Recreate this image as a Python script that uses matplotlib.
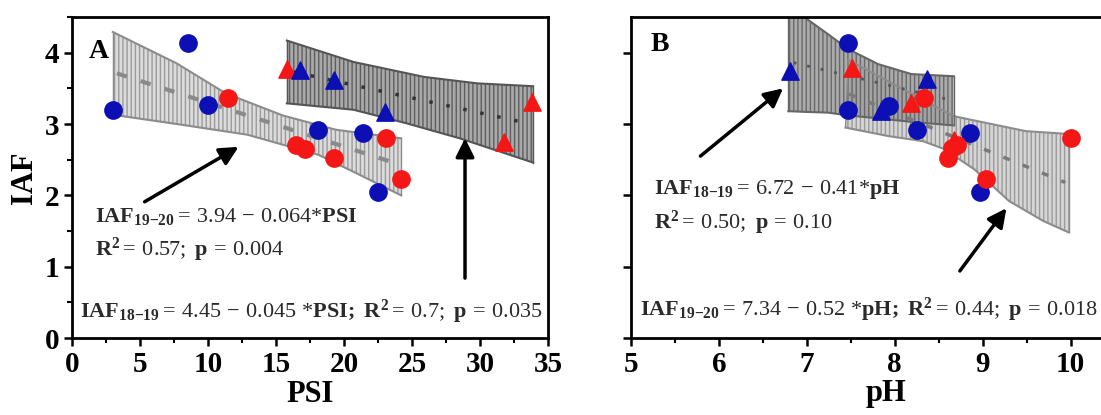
import numpy as np
import matplotlib
matplotlib.use("Agg")
import matplotlib.pyplot as plt
from matplotlib.ticker import MultipleLocator

plt.rcParams['font.family'] = ['Liberation Serif', 'DejaVu Serif']
plt.rcParams['font.weight'] = 'bold'
plt.rcParams['axes.labelweight'] = 'bold'
plt.rcParams['mathtext.fontset'] = 'custom'
plt.rcParams['mathtext.rm'] = 'Liberation Serif:regular'
plt.rcParams['mathtext.bf'] = 'Liberation Serif:bold'
plt.rcParams['mathtext.it'] = 'Liberation Serif:italic'
plt.rcParams['hatch.linewidth'] = 1.0

# ---- panel A : IAF vs PSI ----
psi_blue_c = [3.0, 8.5, 10.0, 18.1, 21.4, 22.5]
iaf_blue_c = [3.20, 4.14, 3.26, 2.91, 2.87, 2.05]
psi_red_c = [11.5, 16.5, 17.1, 19.3, 23.1, 24.2]
iaf_red_c = [3.37, 2.70, 2.65, 2.52, 2.81, 2.23]
psi_red_t = [15.8, 31.8, 33.8]
iaf_red_t = [3.77, 2.75, 3.31]
psi_blue_t = [16.8, 19.3, 23.0]
iaf_blue_t = [3.76, 3.62, 3.17]

# band 19-20 (light)
a1_x = [3.0, 7.7, 11.3, 15.5, 19.4, 24.2]
a1_up = [4.29, 3.85, 3.43, 3.12, 2.92, 2.80]
a1_x_lo = [3.0, 7.7, 12.9, 18.1, 20.7, 24.2]
a1_lo = [3.13, 3.00, 2.85, 2.57, 2.33, 2.00]
a1_fit_x = [3.3, 23.8]
a1_fit_y = [3.71, 2.45]
# band 18-19 (dark)
a2_x = [15.8, 20.7, 25.9, 29.8, 33.9]
a2_up = [4.17, 3.87, 3.66, 3.57, 3.53]
a2_x_lo = [15.8, 20.7, 24.6, 28.5, 33.9]
a2_lo = [3.29, 3.20, 3.01, 2.80, 2.46]
a2_fit_x = [16.3, 33.75]
a2_fit_y = [3.73, 3.00]

# ---- panel B : IAF vs pH ----
ph_blue_c = [7.47, 7.47, 7.94, 8.25, 8.85, 8.97]
ibc = [4.14, 3.19, 3.25, 2.92, 2.88, 2.05]
ph_red_c = [8.33, 8.61, 8.65, 8.71, 9.04, 10.0]
irc = [3.37, 2.53, 2.67, 2.71, 2.23, 2.81]
ph_red_t = [7.51, 8.19, 8.67]
irt = [3.79, 3.30, 2.78]
ph_blue_t = [6.81, 8.37, 7.84]
ibt = [3.75, 3.63, 3.18]

# band 18-19 (dark)
b2_x = [6.79, 6.98, 7.24, 7.47, 7.81, 8.19, 8.67]
b2_up = [4.7, 4.49, 4.26, 4.05, 3.84, 3.70, 3.67]
b2_lo = [3.18, 3.17, 3.16, 3.12, 3.08, 3.03, 2.98]
b2_fit_x = [6.85, 8.69]
b2_fit_y = [3.86, 3.32]
# band 19-20 (light)
b1_x = [7.47, 8.0, 8.67, 9.10, 9.49, 9.98]
b1_up = [3.90, 3.55, 3.11, 3.00, 2.90, 2.86]
b1_x_lo = [7.44, 7.93, 8.32, 8.56, 8.91, 9.30, 9.69, 9.98]
b1_lo = [2.95, 2.83, 2.76, 2.65, 2.36, 1.92, 1.64, 1.48]
b1_fit_x = [7.48, 9.94]
b1_fit_y = [3.42, 2.18]

BLUE = '#0b0fb4'
RED = '#f51616'
TXT = '#2a2a2a'
FS = 16


def band(ax, x_up, up, x_lo, lo, face, hatchc, edge, alpha=1.0):
    xs = np.concatenate([x_up, x_lo[::-1]])
    ys = np.concatenate([up, lo[::-1]])
    ax.fill(xs, ys, facecolor=face, edgecolor=hatchc, hatch='||||', lw=0, alpha=alpha, zorder=1)
    ax.plot(x_up, up, color=edge, lw=1.5, zorder=2)
    ax.plot(x_lo, lo, color=edge, lw=1.5, zorder=2)
    ax.plot([x_up[0], x_lo[0]], [up[0], lo[0]], color=edge, lw=1.0, zorder=2)
    ax.plot([x_up[-1], x_lo[-1]], [up[-1], lo[-1]], color=edge, lw=1.0, zorder=2)


def style(ax):
    for s in ax.spines.values():
        s.set_linewidth(2)
    ax.tick_params(which='major', direction='out', length=6, width=1.8, labelsize=21, pad=3)
    ax.tick_params(which='minor', direction='out', length=3.5, width=1.5)


def arrow(ax, tail, head):
    ax.annotate('', xy=head, xytext=tail,
                arrowprops=dict(arrowstyle='-|>', lw=2.5, color='black', mutation_scale=28, shrinkA=0, shrinkB=0),
                zorder=6)


fig = plt.figure(figsize=(11.01, 4.15), dpi=100)
axA = fig.add_axes([0.0654, 0.1855, 0.4323, 0.7735])
axB = fig.add_axes([0.5731, 0.1855, 0.4632, 0.7735])

# panel A
band(axA, a1_x, a1_up, a1_x_lo, a1_lo, '#dcdcdc', '#9a9a9a', '#8c8c8c')
band(axA, a2_x, a2_up, a2_x_lo, a2_lo, '#a9a9a9', '#5e5e5e', '#555555')
axA.plot(a1_fit_x, a1_fit_y, color='#8a8a8a', lw=3, ls=(0, (2.5, 3.5)), zorder=3)
axA.plot(a2_fit_x, a2_fit_y, color='#333333', lw=2.5, ls=(0, (1, 4)), zorder=3)
axA.scatter(psi_blue_c, iaf_blue_c, s=155, color=BLUE, zorder=4)
axA.scatter(psi_red_c, iaf_red_c, s=155, color=RED, zorder=4)
axA.scatter(psi_red_t, iaf_red_t, s=155, marker='^', color=RED, zorder=4)
axA.scatter(psi_blue_t, iaf_blue_t, s=155, marker='^', color=BLUE, zorder=4)
arrow(axA, (5.34, 1.91), (12.25, 2.68))
arrow(axA, (28.9, 0.84), (28.9, 2.80))
axA.text(1.2, 4.02, 'A', fontsize=20, va='center')
axA.text(1.7, 1.70, r'$\mathbf{IAF}_{\mathbf{19{-}20}}\mathrm{=\,3.94\,-\,0.064{*}}\mathbf{PSI}$',
         fontsize=FS, color=TXT, va='center')
axA.text(1.7, 1.24, r'$\mathbf{R^2}\mathrm{=\,0.57;\ }\mathbf{p}\mathrm{\,=\,0.004}$',
         fontsize=FS, color=TXT, va='center')
axA.text(0.6, 0.37, r'$\mathbf{IAF}_{\mathbf{18{-}19}}\mathrm{=\,4.45\,-\,0.045\ {*}}\mathbf{PSI;\ R^2}'
         r'\mathrm{=\,0.7;\ }\mathbf{p}\mathrm{\,=\,0.035}$', fontsize=FS, color=TXT, va='center')
axA.set_xlim(0, 35)
axA.set_ylim(0, 4.5)
axA.xaxis.set_major_locator(MultipleLocator(5))
axA.xaxis.set_minor_locator(MultipleLocator(2.5))
axA.yaxis.set_major_locator(MultipleLocator(1))
axA.yaxis.set_minor_locator(MultipleLocator(0.5))
axA.set_xlabel('PSI', fontsize=22, labelpad=2)
axA.set_ylabel('IAF', fontsize=22, labelpad=4)
style(axA)

# panel B
band(axB, b1_x, b1_up, b1_x_lo, b1_lo, '#d6d6d6', '#9a9a9a', '#8c8c8c')
band(axB, b2_x, b2_up, b2_x, b2_lo, '#9c9c9c', '#5e5e5e', '#666666', alpha=0.85)
axB.plot(b1_fit_x, b1_fit_y, color='#7a7a7a', lw=2.5, ls=(0, (2, 4)), zorder=3)
axB.plot(b2_fit_x, b2_fit_y, color='#555555', lw=2, ls=(0, (1, 4)), zorder=3)
axB.scatter(ph_blue_c, ibc, s=155, color=BLUE, zorder=4)
axB.scatter(ph_red_c, irc, s=155, color=RED, zorder=4)
axB.scatter(ph_red_t, irt, s=155, marker='^', color=RED, zorder=4)
axB.scatter(ph_blue_t, ibt, s=155, marker='^', color=BLUE, zorder=4)
arrow(axB, (5.79, 2.55), (6.73, 3.50))
arrow(axB, (8.74, 0.94), (9.27, 1.82))
axB.text(5.22, 4.12, 'B', fontsize=20, va='center')
axB.text(5.26, 2.08, r'$\mathbf{IAF}_{\mathbf{18{-}19}}\mathrm{=\,6.72\,-\,0.41{*}}\mathbf{pH}$',
         fontsize=FS, color=TXT, va='center')
axB.text(5.26, 1.61, r'$\mathbf{R^2}\mathrm{=\,0.50;\ }\mathbf{p}\mathrm{\,=\,0.10}$',
         fontsize=FS, color=TXT, va='center')
axB.text(5.1, 0.40, r'$\mathbf{IAF}_{\mathbf{19{-}20}}\mathrm{=\,7.34\,-\,0.52\ {*}}\mathbf{pH;\ R^2}'
         r'\mathrm{=\,0.44;\ }\mathbf{p}\mathrm{\,=\,0.018}$', fontsize=FS, color=TXT, va='center')
axB.set_xlim(5, 10.8)
axB.set_ylim(0, 4.5)
axB.xaxis.set_major_locator(MultipleLocator(1))
axB.xaxis.set_minor_locator(MultipleLocator(0.5))
axB.yaxis.set_major_locator(MultipleLocator(1))
axB.set_yticklabels([])
axB.set_xlabel('pH', fontsize=22, labelpad=1)
style(axB)

fig.savefig('out.png', dpi=100)
